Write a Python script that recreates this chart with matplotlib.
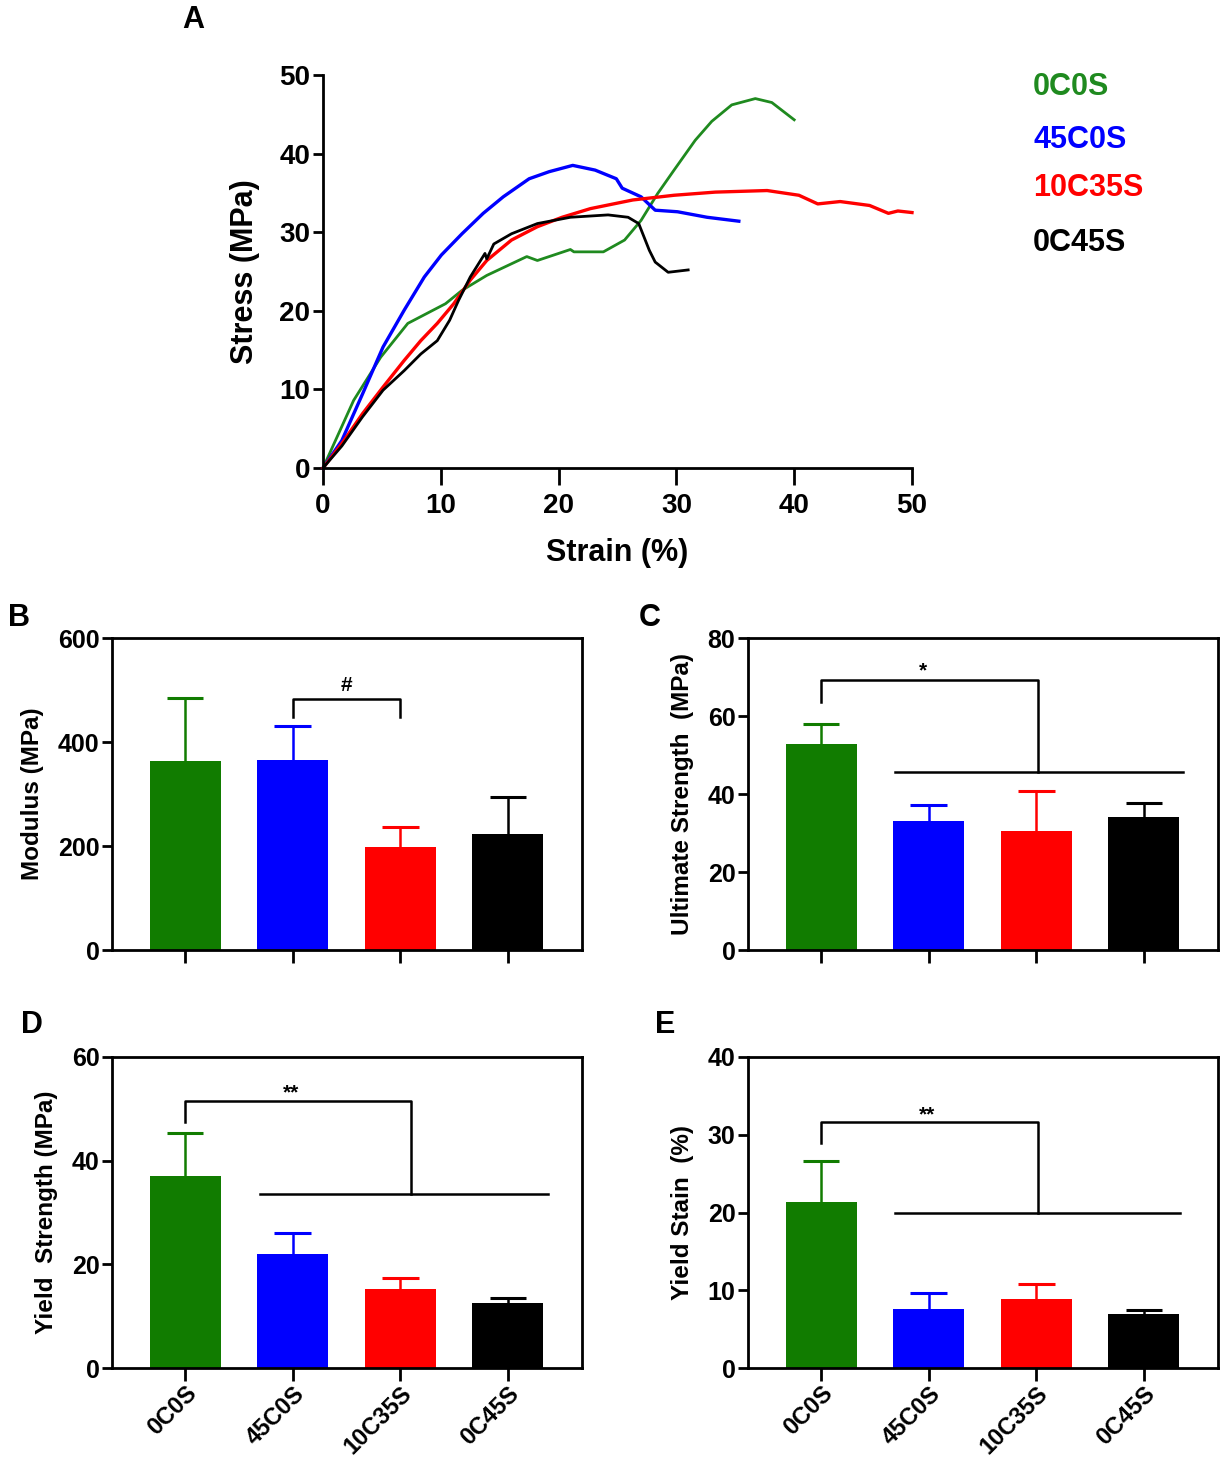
import matplotlib
matplotlib.use("Agg")
import matplotlib.pyplot as plt
import numpy as np

plt.rcParams['font.family'] = ['Liberation Sans', 'DejaVu Sans']
plt.rcParams['font.weight'] = 'bold'

W, H = 1227, 1461

groups = ["0C0S", "45C0S", "10C35S", "0C45S"]
colors = ["#117c00", "#0000ff", "#ff0000", "#000000"]
line_colors = ["#1f8a1f", "#0000ff", "#ff0000", "#000000"]

# Panel A stress-strain curves (strain %, stress MPa)
strain_0C0S = [0, 2.6, 4.9, 7.2, 10.4, 11.8, 13.9, 17.3, 18.2, 21.0, 21.3, 23.8, 25.6, 27.0, 28.4, 29.8, 31.6, 33.0, 34.7, 36.7, 38.1, 40.0]
stress_0C0S = [0, 8.6, 14.1, 18.4, 20.9, 22.6, 24.5, 26.9, 26.4, 27.8, 27.5, 27.5, 29.0, 31.5, 34.9, 37.9, 41.7, 44.1, 46.2, 47.0, 46.5, 44.3]
strain_45C0S = [0, 1.6, 3.35, 5.1, 6.9, 8.6, 10.05, 11.8, 13.6, 15.3, 17.5, 19.2, 21.2, 23.1, 24.9, 25.4, 27.0, 28.2, 30.1, 32.6, 35.3]
stress_45C0S = [0, 3.5, 9.4, 15.4, 20.1, 24.3, 27.1, 29.8, 32.4, 34.5, 36.8, 37.7, 38.5, 37.9, 36.8, 35.6, 34.5, 32.8, 32.6, 31.9, 31.4]
strain_10C35S = [0, 1.6, 3.35, 5.1, 6.9, 8.3, 9.7, 11.1, 12.5, 13.9, 16.0, 18.2, 20.3, 22.7, 26.3, 29.8, 33.3, 37.7, 40.4, 42.0, 43.9, 46.4, 48.0, 48.8, 50.0]
stress_10C35S = [0, 3.1, 6.9, 10.3, 13.7, 16.2, 18.4, 20.9, 23.9, 26.4, 29.0, 30.7, 31.9, 33.0, 34.1, 34.7, 35.1, 35.3, 34.7, 33.6, 33.9, 33.4, 32.4, 32.7, 32.5]
strain_0C45S = [0, 1.6, 3.35, 5.1, 6.9, 8.3, 9.7, 10.75, 11.5, 12.5, 13.75, 13.9, 14.5, 16.0, 18.2, 21.0, 24.2, 25.9, 26.8, 27.7, 28.2, 29.3, 31.0]
stress_0C45S = [0, 2.8, 6.5, 9.9, 12.4, 14.5, 16.2, 18.8, 21.3, 24.3, 27.3, 26.6, 28.5, 29.8, 31.1, 31.9, 32.2, 31.9, 31.1, 27.7, 26.2, 24.9, 25.2]

# Bar data: means and (upper) SD
modulus_mean = [364, 365, 199, 224]
modulus_sd = [120, 66, 37, 70]
ultimate_mean = [52.7, 33.2, 30.6, 34.0]
ultimate_sd = [5.2, 4.0, 10.1, 3.6]
yield_strength_mean = [37.1, 22.0, 15.3, 12.5]
yield_strength_sd = [8.3, 4.1, 2.0, 1.0]
yield_strain_mean = [21.4, 7.6, 8.9, 6.9]
yield_strain_sd = [5.2, 2.1, 1.95, 0.5]


def rect(l, t, r, b):
    return [l / W, 1 - b / H, (r - l) / W, (b - t) / H]


fig = plt.figure(figsize=(W / 100, H / 100), dpi=100)

# ---------- Panel A ----------
axA = fig.add_axes(rect(323, 75, 912, 468))
curves = [(strain_0C0S, stress_0C0S), (strain_45C0S, stress_45C0S),
          (strain_10C35S, stress_10C35S), (strain_0C45S, stress_0C45S)]
lws = [2.0, 2.4, 2.4, 2.0]
for (sx, sy), c, lw in zip(curves, line_colors, lws):
    axA.plot(sx, sy, color=c, lw=lw, clip_on=False, solid_joinstyle='round')
axA.set_xlim(0, 50)
axA.set_ylim(0, 50)
axA.set_xticks(range(0, 51, 10))
axA.set_yticks(range(0, 51, 10))
for s in ['top', 'right']:
    axA.spines[s].set_visible(False)
for s in ['left', 'bottom']:
    axA.spines[s].set_linewidth(2.0)
axA.tick_params(axis='x', length=12, width=2.0, labelsize=20, pad=6)
axA.tick_params(axis='y', length=7, width=2.0, labelsize=20, pad=2)
for lab in axA.get_xticklabels() + axA.get_yticklabels():
    lab.set_fontweight('bold')
axA.set_xlabel("Strain (%)", fontsize=22, fontweight='bold', labelpad=14)
axA.set_ylabel("Stress (MPa)", fontsize=22, fontweight='bold', labelpad=14)

leg_y = [87, 140, 188, 243]
for g, c, y in zip(groups, line_colors, leg_y):
    fig.text(1033 / W, 1 - y / H, g, color=c,
             fontsize=22, fontweight='bold', ha='left', va='center')

fig.text(193 / W, 1 - 20 / H, "A", fontsize=22, fontweight='bold', ha='center', va='center')


# ---------- Bar panels ----------
def bar_panel(box, means, sds, ymax, ystep, ylabel, letter, letter_pos, show_xlabels):
    ax = fig.add_axes(rect(*box))
    x = np.arange(len(groups))
    ax.bar(x, means, width=0.66, color=colors, zorder=2)
    tops = np.array(means) + np.array(sds)
    ax.vlines(x, means, tops, colors=colors, lw=1.8, zorder=1)
    ax.hlines(tops, x - 0.17, x + 0.17, colors=colors, lw=2.2, zorder=1)
    ax.set_xlim(-0.68, 3.69)
    ax.set_ylim(0, ymax)
    ax.set_yticks(np.arange(0, ymax + 0.001, ystep))
    ax.set_xticks(x)
    for s in ax.spines.values():
        s.set_linewidth(2.0)
    ax.tick_params(axis='y', length=7, width=2.0, labelsize=18, pad=2)
    ax.tick_params(axis='x', length=9, width=2.0, labelsize=17, pad=1)
    if show_xlabels:
        ax.set_xticklabels(groups, rotation=45, ha='right', rotation_mode='anchor',
                           fontweight='bold')
    else:
        ax.set_xticklabels([])
    for lab in ax.get_yticklabels():
        lab.set_fontweight('bold')
    ax.set_ylabel(ylabel, fontsize=17.5, fontweight='bold', labelpad=10)
    fig.text(letter_pos[0] / W, 1 - letter_pos[1] / H, letter, fontsize=22,
             fontweight='bold', ha='center', va='center')
    return ax


lwb = 1.8
axB = bar_panel((112, 638, 582, 950), modulus_mean, modulus_sd, 600, 200,
                "Modulus (MPa)", "B", (19, 618), False)
axB.plot([1, 1, 2, 2], [448, 483, 483, 448], color='black', lw=lwb)
axB.text(1.5, 509, "#", fontsize=15, fontweight='bold', ha='center', va='center')

axC = bar_panel((748, 638, 1218, 950), ultimate_mean, ultimate_sd, 80, 20,
                "Ultimate Strength  (MPa)", "C", (650, 618), False)
axC.plot([0, 0, 2.02, 2.02], [63.7, 69.3, 69.3, 45.6], color='black', lw=lwb)
axC.plot([0.69, 3.36], [45.6, 45.6], color='black', lw=lwb)
axC.text(0.95, 71.6, "*", fontsize=15, fontweight='bold', ha='center', va='center')

axD = bar_panel((112, 1057, 582, 1368), yield_strength_mean, yield_strength_sd, 60, 20,
                "Yield  Strength (MPa)", "D", (32, 1025), True)
axD.plot([0, 0, 2.1, 2.1], [47.4, 51.5, 51.5, 33.65], color='black', lw=lwb)
axD.plot([0.70, 3.37], [33.65, 33.65], color='black', lw=lwb)
axD.text(0.98, 53.0, "**", fontsize=15, fontweight='bold', ha='center', va='center')

axE = bar_panel((748, 1057, 1218, 1368), yield_strain_mean, yield_strain_sd, 40, 10,
                "Yield Stain  (%)", "E", (665, 1025), True)
axE.plot([0, 0, 2.02, 2.02], [28.9, 31.6, 31.6, 19.9], color='black', lw=lwb)
axE.plot([0.69, 3.34], [19.9, 19.9], color='black', lw=lwb)
axE.text(0.98, 32.6, "**", fontsize=15, fontweight='bold', ha='center', va='center')

fig.savefig("out.png", dpi=100)
